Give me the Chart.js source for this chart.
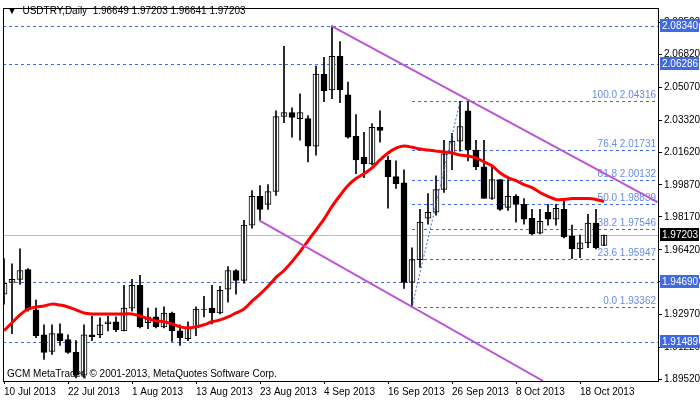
<!DOCTYPE html>
<html><head><meta charset="utf-8">
<script src="https://cdn.jsdelivr.net/npm/chart.js@4"></script>
<style>html,body{margin:0;padding:0;background:#fff}canvas{display:block}</style>
</head><body><canvas id="c" width="700" height="402"></canvas>
<script>
const opens=[1.9406,1.9469,1.9485,1.9537,1.9322,1.9190,1.9101,1.9196,1.9164,1.9096,1.8975,1.9190,1.9190,1.9248,1.9259,1.9211,1.9332,1.9453,1.9254,1.9285,1.9232,1.9306,1.9211,1.9169,1.9227,1.9327,1.9332,1.9306,1.9432,1.9532,1.9479,1.9773,1.9926,1.9884,1.9952,2.0351,2.0372,2.0340,2.0340,2.0193,2.0577,2.0493,2.0671,2.0467,2.0246,2.0136,2.0099,2.0293,2.0120,2.0031,1.9999,1.9469,1.9590,1.9810,1.9842,1.9963,2.0152,2.0220,2.0382,2.0173,2.0083,1.9915,2.0015,1.9868,1.9926,1.9884,1.9810,1.9731,1.9842,1.9805,1.9857,1.9716,1.9647,1.9679,1.9784,1.96649];
const highs=[1.9595,1.9568,1.9647,1.9542,1.9374,1.9243,1.9243,1.9248,1.9190,1.9159,1.9243,1.9290,1.9280,1.9290,1.9285,1.9453,1.9485,1.9506,1.9332,1.9332,1.9338,1.9311,1.9243,1.9259,1.9338,1.9395,1.9453,1.9448,1.9553,1.9537,1.9799,1.9957,1.9984,1.9989,2.0382,2.0724,2.0398,2.0472,2.0356,2.0619,2.0666,2.0834,2.0750,2.0535,2.0361,2.0267,2.0314,2.0382,2.0141,2.0115,2.0068,1.9653,1.9857,1.9941,2.0036,2.0225,2.0262,2.04316,2.0430,2.0225,2.0225,2.0089,2.0015,2.0015,1.9936,1.9915,1.9857,1.9857,1.9884,1.9884,1.9910,1.9773,1.9720,1.9831,1.9857,1.97203];
const lows=[1.9353,1.9196,1.9458,1.9316,1.9175,1.9059,1.9086,1.9133,1.9091,1.8960,1.8960,1.9159,1.9175,1.9211,1.9206,1.9211,1.9316,1.9227,1.9222,1.9227,1.9227,1.9154,1.9133,1.9159,1.9185,1.9285,1.9248,1.9301,1.9364,1.9406,1.9464,1.9757,1.9799,1.9857,1.9931,2.0319,2.0241,2.0225,2.0109,2.0146,2.0430,2.0446,2.0425,2.0236,2.0047,2.0026,2.0094,2.0215,1.9863,1.9968,1.9437,1.93362,1.9548,1.9779,1.9826,1.9947,2.0068,2.0167,2.0115,2.0068,1.9915,1.9910,1.9852,1.9852,1.9789,1.9779,1.9721,1.9726,1.9773,1.9773,1.9705,1.9595,1.9600,1.9653,1.9647,1.96641];
const closes=[1.9464,1.9485,1.9532,1.9322,1.9185,1.9096,1.9196,1.9159,1.9096,1.8975,1.9190,1.9180,1.9243,1.9259,1.9217,1.9332,1.9453,1.9232,1.9285,1.9232,1.9306,1.9211,1.9175,1.9227,1.9327,1.9325,1.9306,1.9427,1.9532,1.9479,1.9773,1.9926,1.9857,1.9952,2.0351,2.0372,2.0346,2.0372,2.0193,2.0577,2.0488,2.0671,2.0493,2.0241,2.0120,2.0099,2.0293,2.0277,2.0031,1.9994,1.9469,1.9590,1.9789,1.9842,1.9963,2.0152,2.0220,2.0298,2.0173,2.0083,1.9915,2.0015,1.9857,1.9926,1.9884,1.9805,1.9726,1.9794,1.9805,1.9863,1.9710,1.9647,1.9679,1.9784,1.9653,1.97203];
const maValues=[1.9211,1.9254,1.9296,1.9327,1.9338,1.9343,1.9353,1.9348,1.9338,1.9322,1.9306,1.9301,1.9301,1.9301,1.9301,1.9301,1.9301,1.9290,1.9275,1.9264,1.9259,1.9248,1.9232,1.9227,1.9232,1.9243,1.9259,1.9269,1.9285,1.9306,1.9327,1.9369,1.9406,1.9448,1.9495,1.9532,1.9579,1.9632,1.9690,1.9747,1.9805,1.9873,1.9931,1.9984,2.0021,2.0047,2.0078,2.0120,2.0157,2.0183,2.0194,2.0188,2.0178,2.0173,2.0167,2.0162,2.0157,2.0146,2.0141,2.0131,2.0110,2.0089,2.0052,2.0026,2.0010,1.9989,1.9973,1.9947,1.9926,1.9910,1.9910,1.9915,1.9915,1.9915,1.9910,1.9899];
const dateLabels=['10 Jul 2013','22 Jul 2013','1 Aug 2013','13 Aug 2013','23 Aug 2013','4 Sep 2013','16 Sep 2013','26 Sep 2013','8 Oct 2013','18 Oct 2013'];
const dateIndex=[0,8,16,24,32,40,48,56,64,72];
const yTicks=[2.0852,2.0682,2.0507,2.0332,2.0162,1.9987,1.9817,1.9642,1.9472,1.9297,1.9122,1.8952];
const hLevels=[2.08340,2.06286,1.94690,1.91489];
const lastPrice=1.97203;
const fibLevels=[100.0,76.4,61.8,50.0,38.2,23.6,0.0];
const fibPrices=[2.04316,2.01731,2.00132,1.98839,1.97546,1.95947,1.93362];
const fibStart=51, fibEnd=57;
const upperChannel=[{x:40.9,y:2.0834},{x:81.75,y:1.9894}];
const lowerChannel=[{x:31.9,y:1.9799},{x:67.4,y:1.8944}];
const header='USDTRY,Daily  1.96649 1.97203 1.96641 1.97203';
const footer='GCM MetaTrader, © 2001-2013, MetaQuotes Software Corp.';

const BLUE='rgb(65,105,225)', FONT='"Liberation Sans", sans-serif';
const idx=opens.map((_,i)=>i);
const bodies=idx.map(i=>({x:i,y:[opens[i],closes[i]]}));
const wicks=idx.map(i=>({x:i,y:[lows[i],highs[i]]}));
const bodyColors=idx.map(i=>closes[i]>=opens[i]?'#fff':'#000');
const maData=idx.map(i=>({x:i,y:maValues[i]}));

const deco={id:'deco',
beforeDatasetsDraw(ch){const c=ch.ctx,a=ch.chartArea,y=ch.scales.y,x=ch.scales.x;
 c.save();c.beginPath();c.rect(a.left,a.top,a.right-a.left,a.bottom-a.top);c.clip();
 c.lineWidth=1;c.strokeStyle=BLUE;c.setLineDash([3,3]);
 hLevels.forEach(v=>{const py=Math.round(y.getPixelForValue(v))+0.5;c.beginPath();c.moveTo(a.left,py);c.lineTo(a.right,py);c.stroke();});
 const fx=x.getPixelForValue(fibStart);
 c.font='10px '+FONT;c.textAlign='right';c.textBaseline='bottom';c.fillStyle='rgb(100,140,235)';
 fibPrices.forEach((v,k)=>{const py=Math.round(y.getPixelForValue(v))+0.5;c.beginPath();c.moveTo(fx,py);c.lineTo(a.right,py);c.stroke();
   c.fillText(fibLevels[k].toFixed(1)+' '+v.toFixed(5),a.right-2,py-1);});
 c.setLineDash([]);c.strokeStyle='#c0c0c0';
 const ly=Math.round(y.getPixelForValue(lastPrice))+0.5;c.beginPath();c.moveTo(a.left,ly);c.lineTo(a.right,ly);c.stroke();
 c.restore();},
afterDraw(ch){const c=ch.ctx,a=ch.chartArea,y=ch.scales.y;c.save();
 c.strokeStyle='#000';c.lineWidth=1;c.strokeRect(a.left+0.5,a.top+0.5,a.right-a.left,a.bottom-a.top);
 c.font='10px '+FONT;c.textBaseline='middle';c.textAlign='left';
 const box=(v,bg)=>{const py=Math.round(y.getPixelForValue(v));c.fillStyle=bg;c.fillRect(a.right+2,py-7,39,13);c.fillStyle='#fff';c.fillText(v.toFixed(5),a.right+4,py);};
 hLevels.forEach(v=>box(v,BLUE));box(lastPrice,'#000');
 c.fillStyle='#000';c.font='10px '+FONT;c.textBaseline='alphabetic';
 c.fillText('\u25BC  '+header,7,14);
 c.fillText(footer,7,377);
 c.restore();}};

new Chart(document.getElementById('c'),{
 data:{datasets:[
  {type:'line',data:upperChannel,borderColor:'rgb(186,85,211)',borderWidth:2,pointRadius:0},
  {type:'line',data:lowerChannel,borderColor:'rgb(186,85,211)',borderWidth:2,pointRadius:0},
  {type:'line',data:[{x:fibStart,y:fibPrices[6]},{x:fibEnd,y:fibPrices[0]}],borderColor:BLUE,borderWidth:1,borderDash:[2,2],pointRadius:0},
  {type:'line',data:maData,borderColor:'rgb(255,0,0)',borderWidth:3,pointRadius:0,tension:0.3},
  {type:'bar',data:wicks,backgroundColor:'#000',barThickness:1,grouped:false},
  {type:'bar',data:bodies,backgroundColor:bodyColors,borderColor:'#000',borderWidth:1,borderSkipped:false,barThickness:6,grouped:false}
 ]},
 options:{responsive:false,animation:false,devicePixelRatio:1,
  layout:{padding:{left:3,top:3,right:0,bottom:0}},
  plugins:{legend:{display:false},tooltip:{enabled:false}},
  scales:{
   x:{type:'linear',offset:false,min:-0.125,max:81.75,
    afterBuildTicks(s){s.ticks=dateIndex.map(v=>({value:v}));},
    afterFit(s){s.height=21;},
    grid:{drawOnChartArea:false,offset:false,tickLength:3,color:'#000'},border:{display:false},
    ticks:{align:'start',padding:2,maxRotation:0,autoSkip:false,color:'#000',font:{family:'"Liberation Sans"',size:10},
     callback:(v)=>dateLabels[dateIndex.indexOf(v)]}},
   y:{position:'right',min:1.8944,max:2.09285,
    afterBuildTicks(s){s.ticks=yTicks.map(v=>({value:v}));},
    afterFit(s){s.width=42;},
    grid:{drawOnChartArea:false,tickLength:4,color:'#000'},border:{display:false},
    ticks:{padding:2,color:'#000',font:{family:'"Liberation Sans"',size:10},callback:v=>v.toFixed(5)}}
  }},
 plugins:[deco]});
</script></body></html>
